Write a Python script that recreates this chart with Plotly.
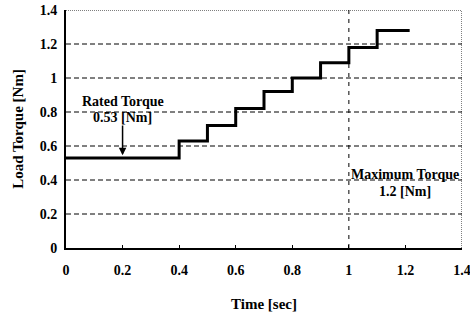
import plotly.graph_objects as go

step_times = [0.0, 0.4, 0.5, 0.6, 0.7, 0.8, 0.9, 1.0, 1.1]
step_torques = [0.53, 0.63, 0.72, 0.82, 0.92, 1.0, 1.09, 1.18, 1.28]
end_time = 1.215

x_ticks = [0, 0.2, 0.4, 0.6, 0.8, 1, 1.2, 1.4]
x_tick_labels = ["0", "0.2", "0.4", "0.6", "0.8", "1", "1.2", "1.4"]
y_ticks = [0, 0.2, 0.4, 0.6, 0.8, 1, 1.2, 1.4]
y_tick_labels = ["0", "0.2", "0.4", "0.6", "0.8", "1", "1.2", "1.4"]

xs = step_times + [end_time]
ys = step_torques + [step_torques[-1]]

FONT = "Liberation Serif"

fig = go.Figure()
fig.add_trace(go.Scatter(x=xs, y=ys, mode="lines", line=dict(color="black", width=3, shape="hv"),
                         showlegend=False, hoverinfo="skip", cliponaxis=False))

for v in y_ticks[1:-1]:
    fig.add_shape(type="line", x0=0, x1=1.4, y0=v, y1=v, xref="x", yref="y",
                  line=dict(color="black", width=1, dash="5px,3px"), layer="below")
fig.add_shape(type="line", x0=0, x1=1.4, y0=1.4, y1=1.4, xref="x", yref="y",
              line=dict(color="black", width=1, dash="1px,1px"))
fig.add_shape(type="line", x0=1.4, x1=1.4, y0=0, y1=1.4, xref="x", yref="y",
              line=dict(color="black", width=1, dash="1px,1px"))
fig.add_shape(type="line", x0=1, x1=1, y0=0, y1=1.4, xref="x", yref="y",
              line=dict(color="black", width=1, dash="4px,5px"))

ann_font = dict(family=FONT, size=14, color="black")
fig.add_annotation(x=0.2, y=0.86, text="<b>Rated Torque</b>", showarrow=False,
                   font=ann_font, xref="x", yref="y")
fig.add_annotation(x=0.2, y=0.765, text="<b>0.53 [Nm]</b>", showarrow=False,
                   font=ann_font, xref="x", yref="y")
fig.add_annotation(x=0.2, y=0.545, ax=0.2, ay=0.73, axref="x", ayref="y", xref="x", yref="y",
                   text="", showarrow=True, arrowhead=2, arrowsize=1, arrowwidth=1.5, arrowcolor="black")
fig.add_annotation(x=1.2, y=0.43, text="<b>Maximum Torque</b>", showarrow=False,
                   font=ann_font, xref="x", yref="y")
fig.add_annotation(x=1.2, y=0.335, text="<b>1.2 [Nm]</b>", showarrow=False,
                   font=ann_font, xref="x", yref="y")

fig.update_layout(
    width=470, height=314,
    margin=dict(l=66, r=8, t=10, b=66),
    paper_bgcolor="white", plot_bgcolor="white",
    font=dict(family=FONT, color="black"),
    xaxis=dict(range=[0, 1.4], tickvals=x_ticks, ticktext=["<b>%s</b>" % t for t in x_tick_labels],
               showgrid=False, zeroline=False, showline=True, linecolor="black", linewidth=2,
               ticks="inside", ticklen=3, tickcolor="black", tickfont=dict(size=14, family=FONT),
               ticklabelstandoff=8, automargin=False, ticklabeloverflow="allow",
               title=dict(text="<b>Time [sec]</b>", font=dict(size=15, family=FONT), standoff=22)),
    yaxis=dict(range=[0, 1.4], tickvals=y_ticks, ticktext=["<b>%s</b>" % t for t in y_tick_labels],
               showgrid=False, zeroline=False, showline=True, linecolor="black", linewidth=2,
               ticks="", tickfont=dict(size=14, family=FONT), ticklabelstandoff=4, automargin=False,
               ticklabeloverflow="allow",
               title=dict(text="<b>Load Torque [Nm]</b>", font=dict(size=15, family=FONT), standoff=12)),
)

fig.write_html("out.html", config={"displayModeBar": False},
               post_script="document.body.style.margin='0';document.body.style.overflow='hidden';")
